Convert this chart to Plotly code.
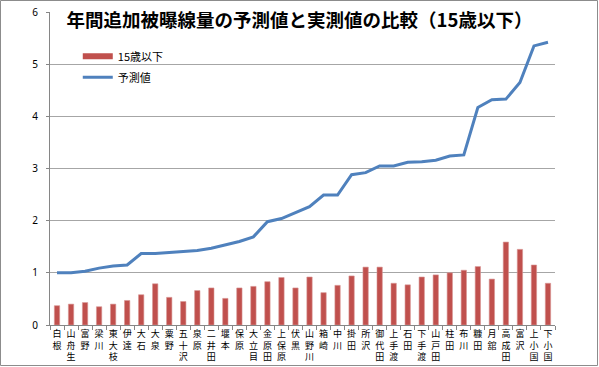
import plotly.graph_objects as go

categories = ["白根", "山舟生", "富野", "梁川", "東大枝", "伊達", "大石", "大泉", "粟野", "五十沢",
              "泉原", "二井田", "堰本", "保原", "大立目", "金原田", "上保原", "伏黒", "山野川", "箱崎",
              "中川", "掛田", "所沢", "御代田", "上手渡", "石田", "下手渡", "山戸田", "柱田", "布川",
              "糠田", "月舘", "高成田", "富沢", "上小国", "下小国"]

measured_15 = [0.37, 0.40, 0.43, 0.35, 0.40, 0.47, 0.58, 0.79, 0.53, 0.45,
               0.66, 0.71, 0.51, 0.71, 0.74, 0.83, 0.91, 0.71, 0.92, 0.62,
               0.76, 0.94, 1.11, 1.11, 0.80, 0.77, 0.92, 0.96, 1.00, 1.05,
               1.12, 0.88, 1.59, 1.45, 1.15, 0.80]

predicted = [1.00, 1.00, 1.03, 1.09, 1.13, 1.15, 1.37, 1.37, 1.39, 1.41,
             1.43, 1.47, 1.53, 1.60, 1.69, 1.98, 2.04, 2.15, 2.27, 2.49,
             2.49, 2.88, 2.92, 3.05, 3.05, 3.12, 3.13, 3.16, 3.24, 3.26,
             4.17, 4.32, 4.33, 4.65, 5.35, 5.42]

y_ticks = [0, 1, 2, 3, 4, 5, 6]

tick_text = ["<br>".join(list(c)) for c in categories]

BAR_COLOR = "#C0504D"
LINE_COLOR = "#4F81BD"

fig = go.Figure()
fig.add_trace(go.Bar(
    x=categories, y=measured_15, name="15歳以下", showlegend=False,
    legendgroup="m",
    marker=dict(color=BAR_COLOR, line=dict(color="#D99694", width=0.6)),
))
# legend entry drawn as a wide bar swatch, as in the reference
fig.add_trace(go.Scatter(
    x=[None], y=[None], name="15歳以下", mode="lines", legendgroup="m",
    line=dict(color=BAR_COLOR, width=6),
))
fig.add_trace(go.Scatter(
    x=categories, y=predicted, name="予測値", mode="lines",
    line=dict(color=LINE_COLOR, width=3),
))

W, H = 599, 367
ml, mr, mt, mb = 50, 44, 12, 42

fig.update_layout(
    width=W, height=H,
    margin=dict(l=ml, r=mr, t=mt, b=mb, autoexpand=False),
    paper_bgcolor="white", plot_bgcolor="white",
    bargap=0.62,
    font=dict(family="Noto Sans CJK JP", color="#000000"),
    title=dict(
        text="<b>年間追加被曝線量の予測値と実測値の比較（15歳以下）</b>",
        x=0.5, xanchor="center", xref="container",
        y=1 - 21 / H, yanchor="middle", yref="container",
        font=dict(size=18.5, family="Noto Sans CJK JP", color="#000000"),
    ),
    legend=dict(
        x=0.055, y=0.905, xanchor="left", yanchor="top",
        bgcolor="rgba(0,0,0,0)", font=dict(size=11),
        tracegroupgap=2, itemwidth=30,
    ),
    showlegend=True,
    xaxis=dict(
        type="category", automargin=False,
        tickmode="array", tickvals=categories, ticktext=tick_text,
        tickangle=0,
        tickson="boundaries",
        ticks="outside", ticklen=4, tickcolor="#868686",
        showline=True, linecolor="#868686", linewidth=1,
        showgrid=False,
        tickfont=dict(size=9, family="Noto Sans CJK JP", color="#000000"),
    ),
    yaxis=dict(
        range=[0, 6], automargin=False,
        tickmode="array", tickvals=y_ticks,
        ticktext=[str(v) for v in y_ticks],
        showgrid=True, gridcolor="#A6A6A6", gridwidth=1,
        showline=True, linecolor="#868686", linewidth=1,
        ticks="outside", ticklen=3, tickcolor="#868686",
        ticklabelstandoff=6,
        tickfont=dict(size=10, family="Noto Sans", color="#000000"),
        zeroline=False,
    ),
)

pw = W - ml - mr
ph = H - mt - mb
fig.add_shape(
    type="rect", xref="paper", yref="paper",
    x0=-(ml - 0.5) / pw, x1=1 + (mr - 1.5) / pw,
    y0=-(mb - 1.5) / ph, y1=1 + (mt - 0.5) / ph,
    line=dict(color="#8C8C8C", width=1), fillcolor="rgba(0,0,0,0)",
    layer="below",
)

fig.write_html(
    "out.html",
    config={"displayModeBar": False},
    post_script="document.body.style.margin='0';document.body.style.padding='0';",
)
